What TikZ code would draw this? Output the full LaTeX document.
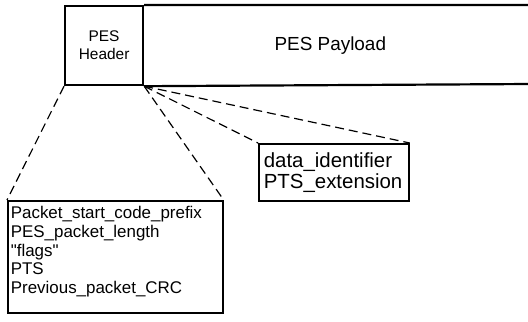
\documentclass[tikz,border=0pt]{standalone}
\usepackage{fontspec}
\setmainfont{Liberation Sans}
\usetikzlibrary{positioning}
\tikzstyle{field} = [rectangle, draw, line width=2.2pt, inner sep=0pt]
\tikzstyle{listbox} = [rectangle, draw, line width=1.7pt, align=left, anchor=north west, inner sep=3bp]
\tikzstyle{link} = [draw, line width=1.2pt, dash pattern=on 9pt off 5pt]

\begin{document}
\begin{tikzpicture}[x=1bp, y=-1bp]
		\useasboundingbox (0,0) rectangle (528,321);
		% node placement
		\node [field, minimum width=78bp, minimum height=79bp, anchor=north west, align=center,
			font=\fontsize{15.5}{18}\selectfont] (header) at (64,5) {PES\\Header};
		\node [anchor=west, font=\fontsize{19}{22}\selectfont] (payload) at (271,46) {PES Payload};
		\draw [line width=2.2pt] (530,5) -- (header.north east) (header.south east) -- (530,84);
		\node [listbox, minimum width=215bp, minimum height=112bp, text width=209bp,
			font=\fontsize{17}{19}\selectfont] (fields) at (7,200)
			{Packet\_start\_code\_prefix\\PES\_packet\_length\\\textquotedbl flags\textquotedbl\\PTS\\Previous\_packet\_CRC\\[-5bp]\mbox{}};
		\node [listbox, inner xsep=5bp, minimum width=150bp, minimum height=57bp, text width=140bp,
			font=\fontsize{20.5}{21}\selectfont] (ext) at (258,143)
			{data\_identifier\\PTS\_extension};
		
		\path[link] (header.south west) -- (fields.north west);
		\path[link] (header.south east) -- (fields.north east);
		\path[link] (header.south east) -- (ext.north west);
		\path[link] (header.south east) -- (ext.north east);
	\end{tikzpicture}
\end{document}
